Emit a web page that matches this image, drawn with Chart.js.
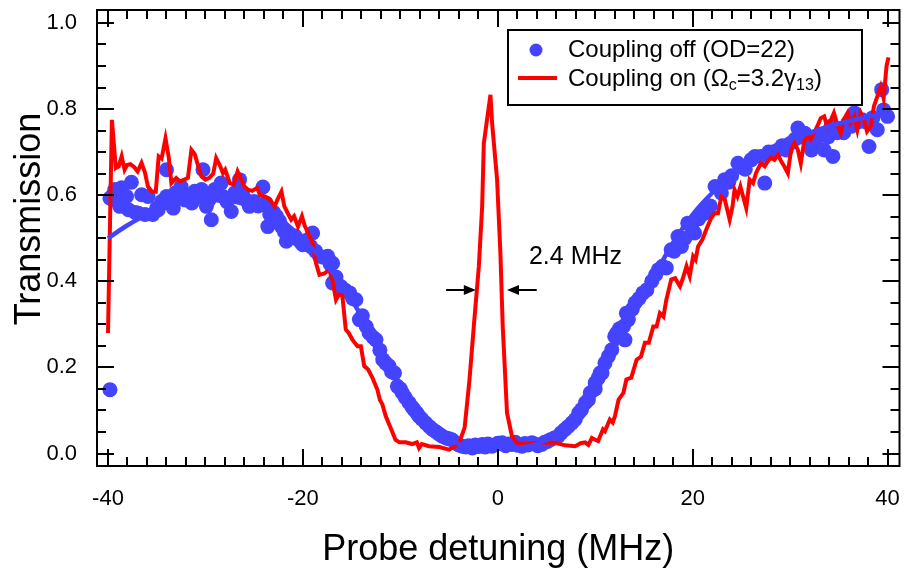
<!DOCTYPE html>
<html><head><meta charset="utf-8">
<script src="https://cdn.jsdelivr.net/npm/chart.js@4"></script>
<style>html,body{margin:0;padding:0;background:#fff}#wrap{width:907px;height:575px;position:relative}</style>
</head><body><div id="wrap"><canvas id="c" width="907" height="575"></canvas></div>
<script>
// ---- Data: coupling off (blue dots) ----
const offX = [-39.8,-39.8,-39.5,-39.3,-39.0,-38.8,-38.6,-38.1,-37.9,-37.6,-37.2,-36.9,-36.55,-36.2,-35.9,-35.4,-35.0,-34.85,-34.5,-34.0,-34.0,-33.6,-33.3,-33.1,-32.8,-32.5,-32.1,-31.8,-31.4,-31.1,-30.7,-30.4,-30.25,-29.9,-29.6,-29.4,-29.05,-28.7,-28.4,-28.2,-27.8,-27.35,-27.0,-26.5,-26.2,-25.9,-25.5,-25.0,-24.6,-24.1,-23.8,-23.6,-23.4,-23.0,-22.7,-22.4,-22.2,-21.9,-21.7,-21.4,-21.2,-20.8,-20.5,-20.2,-20.0,-19.6,-19.2,-19.0,-18.7,-18.3,-17.9,-17.45,-17.2,-16.95,-16.95,-16.6,-16.3,-16.1,-15.7,-15.2,-14.9,-14.56,-14.2,-13.9,-13.5,-13.2,-12.8,-12.5,-12.1,-11.8,-11.5,-11.15,-10.9,-10.6,-10.3,-10.0,-9.8,-9.5,-9.1,-8.8,-8.6,-8.3,-8.1,-7.8,-7.4,-7.0,-6.7,-6.3,-6.0,-5.7,-5.3,-5.0,-4.7,-4.3,-4.0,-3.65,-3.3,-3.0,-2.6,-2.3,-2.0,-1.6,-1.3,-1.0,-0.6,-0.3,0.0,0.44,0.8,1.1,1.46,1.8,2.1,2.5,2.8,3.1,3.5,3.8,4.1,4.5,4.8,5.1,5.4,5.8,6.2,6.5,6.9,7.2,7.6,7.95,8.3,8.6,9.0,9.3,9.5,10.0,10.0,10.3,10.5,10.7,11.0,11.35,11.7,12.0,12.2,12.5,12.9,13.06,13.2,13.4,13.8,14.1,14.5,14.9,15.3,15.8,16.2,16.5,16.9,17.3,17.8,18.1,18.5,18.85,19.2,19.5,19.9,20.2,20.6,21.0,21.4,21.8,22.3,22.95,23.3,23.7,24.0,24.65,25.0,25.4,26.0,26.4,27.0,27.4,27.8,28.2,28.75,29.2,29.6,30.0,30.5,30.8,31.2,31.5,31.9,32.2,32.6,33.0,33.5,33.9,34.2,34.4,34.8,35.2,35.5,35.9,36.3,36.6,37.0,37.4,37.8,38.1,38.5,38.95,39.4,39.6,40.0];
const offY = [0.148,0.593,0.600,0.613,0.585,0.574,0.617,0.597,0.566,0.630,0.560,0.558,0.601,0.555,0.597,0.555,0.570,0.566,0.585,0.659,0.597,0.580,0.570,0.605,0.598,0.620,0.589,0.600,0.582,0.609,0.595,0.613,0.659,0.574,0.590,0.543,0.613,0.600,0.628,0.597,0.585,0.562,0.605,0.636,0.605,0.590,0.574,0.585,0.575,0.619,0.582,0.527,0.555,0.560,0.551,0.540,0.527,0.515,0.493,0.500,0.504,0.505,0.497,0.490,0.485,0.495,0.481,0.512,0.470,0.458,0.456,0.458,0.440,0.442,0.396,0.410,0.388,0.388,0.380,0.373,0.360,0.357,0.311,0.320,0.295,0.280,0.270,0.264,0.240,0.218,0.210,0.203,0.190,0.187,0.156,0.150,0.141,0.130,0.118,0.108,0.102,0.094,0.087,0.080,0.071,0.062,0.056,0.050,0.045,0.040,0.036,0.034,0.032,0.025,0.020,0.017,0.015,0.018,0.013,0.020,0.016,0.021,0.015,0.022,0.017,0.020,0.024,0.025,0.018,0.022,0.021,0.026,0.019,0.017,0.023,0.020,0.025,0.022,0.018,0.021,0.026,0.028,0.032,0.036,0.040,0.048,0.056,0.062,0.071,0.079,0.094,0.102,0.118,0.125,0.141,0.150,0.164,0.175,0.187,0.187,0.210,0.226,0.241,0.272,0.280,0.290,0.295,0.264,0.326,0.311,0.335,0.350,0.360,0.373,0.380,0.400,0.415,0.427,0.435,0.431,0.473,0.470,0.504,0.481,0.500,0.535,0.525,0.512,0.545,0.555,0.560,0.575,0.620,0.605,0.636,0.630,0.645,0.674,0.665,0.660,0.682,0.690,0.690,0.628,0.700,0.700,0.705,0.715,0.705,0.720,0.730,0.756,0.735,0.744,0.730,0.705,0.725,0.740,0.705,0.735,0.760,0.690,0.745,0.755,0.745,0.767,0.760,0.791,0.770,0.775,0.770,0.713,0.780,0.752,0.845,0.798,0.783];

// ---- Data: coupling on (red line) ----
const onX = [-40.0,-39.6,-39.2,-38.9,-38.6,-38.3,-38.05,-37.7,-37.3,-36.96,-36.56,-36.2,-35.9,-35.5,-35.1,-34.8,-34.5,-34.1,-33.76,-33.5,-33.0,-32.6,-32.1,-31.8,-31.44,-31.1,-30.8,-30.4,-30.0,-29.6,-29.2,-28.9,-28.5,-28.2,-27.97,-27.5,-27.1,-26.7,-26.4,-26.0,-25.65,-25.2,-24.7,-24.4,-23.9,-23.4,-22.9,-22.6,-22.2,-21.9,-21.55,-21.2,-20.9,-20.5,-20.1,-19.8,-19.3,-19.0,-18.65,-18.3,-17.8,-17.3,-16.98,-16.6,-16.3,-15.95,-15.6,-15.3,-14.9,-14.4,-14.05,-13.7,-13.3,-12.86,-12.35,-12.1,-11.84,-11.5,-11.0,-10.5,-10.1,-9.44,-8.8,-8.3,-8.08,-7.8,-7.06,-6.0,-5.0,-4.0,-3.4,-2.9,-2.46,-1.94,-1.6,-1.43,-0.75,-0.58,-0.07,0.27,0.51,0.95,1.46,1.97,2.5,3.5,4.5,5.9,6.9,7.95,8.5,8.97,9.3,9.66,10.0,10.3,10.8,11.0,11.5,11.8,12.03,12.4,12.9,13.2,13.7,14.25,14.7,15.1,15.5,15.96,16.3,16.64,17.0,17.3,17.8,18.2,18.7,19.0,19.37,19.7,20.05,20.3,20.56,21.0,21.4,21.9,22.25,22.6,22.95,23.3,23.8,24.1,24.3,24.6,24.9,25.5,25.85,26.2,26.5,27.0,27.4,27.7,28.0,28.4,28.75,29.1,29.4,29.77,30.1,30.45,30.8,31.1,31.45,31.8,32.1,32.45,32.8,33.15,33.5,33.8,34.2,34.5,34.9,35.2,35.5,35.9,36.2,36.6,36.9,37.25,37.6,37.9,38.3,38.6,38.95,39.3,39.6,39.9,40.1];
const onY = [0.28,0.775,0.663,0.667,0.690,0.659,0.670,0.672,0.665,0.655,0.675,0.652,0.620,0.608,0.608,0.690,0.685,0.732,0.687,0.628,0.640,0.632,0.637,0.640,0.705,0.695,0.672,0.643,0.636,0.640,0.650,0.686,0.668,0.651,0.659,0.628,0.625,0.655,0.640,0.620,0.613,0.610,0.617,0.600,0.597,0.590,0.574,0.590,0.608,0.574,0.558,0.543,0.551,0.527,0.551,0.528,0.504,0.489,0.442,0.415,0.418,0.427,0.404,0.357,0.369,0.367,0.288,0.280,0.264,0.249,0.249,0.203,0.195,0.176,0.148,0.125,0.114,0.087,0.060,0.032,0.026,0.026,0.022,0.026,0.013,0.022,0.017,0.015,0.009,0.022,0.060,0.172,0.295,0.435,0.574,0.721,0.833,0.767,0.636,0.466,0.295,0.094,0.040,0.025,0.022,0.024,0.025,0.025,0.019,0.017,0.024,0.026,0.020,0.036,0.032,0.029,0.056,0.052,0.079,0.072,0.087,0.125,0.141,0.172,0.176,0.218,0.225,0.257,0.257,0.295,0.295,0.326,0.318,0.357,0.404,0.407,0.388,0.407,0.435,0.412,0.458,0.450,0.481,0.497,0.520,0.547,0.558,0.558,0.597,0.590,0.543,0.575,0.613,0.597,0.620,0.570,0.636,0.628,0.651,0.674,0.667,0.678,0.687,0.682,0.694,0.678,0.667,0.651,0.705,0.721,0.705,0.674,0.725,0.736,0.729,0.744,0.760,0.779,0.783,0.760,0.775,0.791,0.760,0.744,0.775,0.791,0.767,0.783,0.752,0.791,0.775,0.748,0.760,0.806,0.829,0.852,0.825,0.900,0.920];

// ---- Data: fit to coupling-off data (blue line) ----
const fitX = [-40,-38,-36,-34,-32,-30,-28,-26,-24,-22,-20,-18,-16,-14,-12,-10,-8,-6,-4,-2,0,2,4,6,8,10,12,14,16,18,20,22,24,26,28,30,32,34,36,38,40];
const fitY = [0.500,0.530,0.555,0.573,0.585,0.590,0.588,0.580,0.565,0.538,0.498,0.450,0.390,0.320,0.242,0.160,0.092,0.046,0.022,0.013,0.011,0.013,0.022,0.046,0.092,0.160,0.245,0.330,0.410,0.490,0.555,0.605,0.645,0.680,0.705,0.730,0.745,0.760,0.772,0.782,0.792];

// ---- Axis ticks ----
const xTickValues = [-40,-20,0,20,40];
const yTickValues = [0,0.2,0.4,0.6,0.8,1.0];

const toPts = (xs, ys) => xs.map((v, i) => ({x: v, y: ys[i]}));

const BLUE = '#4444FF', RED = '#FF0000';
const FONT = "'Liberation Sans', Arial, Helvetica, sans-serif";

const noPad = s => { s.paddingLeft = 0; s.paddingRight = 0; s.paddingTop = 0; s.paddingBottom = 0; };

const framePlugin = {
  id: 'frameTicks',
  afterDraw(chart) {
    const {ctx, chartArea: a, scales: {x, y}} = chart;
    ctx.save();
    ctx.strokeStyle = '#000';
    ctx.lineWidth = 2;
    ctx.strokeRect(a.left, a.top, a.right - a.left, a.bottom - a.top);
    ctx.beginPath();
    for (let i = -20; i <= 20; i++) {
      const v = i * 2;
      const px = Math.round(x.getPixelForValue(v));
      const L = (v % 20 === 0) ? 17 : 9;
      ctx.moveTo(px, a.bottom); ctx.lineTo(px, a.bottom - L);
      ctx.moveTo(px, a.top); ctx.lineTo(px, a.top + L);
    }
    for (let i = 0; i <= 20; i++) {
      const py = Math.round(y.getPixelForValue(i * 0.05));
      const L = (i % 4 === 0) ? 17 : 9;
      ctx.moveTo(a.left, py); ctx.lineTo(a.left + L, py);
      ctx.moveTo(a.right, py); ctx.lineTo(a.right - L, py);
    }
    ctx.stroke();

    // y axis title
    ctx.fillStyle = '#000';
    ctx.font = '36px ' + FONT;
    ctx.textAlign = 'center';
    ctx.textBaseline = 'middle';
    ctx.translate(30, 219);
    ctx.rotate(-Math.PI / 2);
    ctx.fillText('Transmission', 0, 0);
    ctx.restore();

    // annotation: linewidth arrows
    ctx.save();
    const ya = Math.round(y.getPixelForValue(0.38));
    const arrow = (x0, x1) => {
      const p0 = x.getPixelForValue(x0), p1 = x.getPixelForValue(x1);
      const dir = Math.sign(p1 - p0);
      ctx.strokeStyle = '#000'; ctx.lineWidth = 2;
      ctx.beginPath(); ctx.moveTo(p0, ya); ctx.lineTo(p1 - dir * 8, ya); ctx.stroke();
      ctx.fillStyle = '#000';
      ctx.beginPath(); ctx.moveTo(p1, ya); ctx.lineTo(p1 - dir * 12, ya - 5); ctx.lineTo(p1 - dir * 12, ya + 5); ctx.closePath(); ctx.fill();
    };
    arrow(-5.3, -2.25);
    arrow(4.0, 0.95);
    ctx.font = '25px ' + FONT;
    ctx.textAlign = 'left';
    ctx.textBaseline = 'middle';
    ctx.fillText('2.4 MHz', x.getPixelForValue(3.2), y.getPixelForValue(0.455));
    ctx.restore();

    // legend
    ctx.save();
    ctx.fillStyle = '#fff';
    ctx.fillRect(508, 30, 354, 75);
    ctx.strokeStyle = '#000'; ctx.lineWidth = 2;
    ctx.strokeRect(508, 30, 354, 75);
    ctx.fillStyle = BLUE;
    ctx.beginPath(); ctx.arc(536, 50, 6.5, 0, Math.PI * 2); ctx.fill();
    ctx.strokeStyle = RED; ctx.lineWidth = 4;
    ctx.beginPath(); ctx.moveTo(518, 78); ctx.lineTo(557, 78); ctx.stroke();
    ctx.fillStyle = '#000';
    ctx.textAlign = 'left'; ctx.textBaseline = 'middle';
    const big = '24px ' + FONT, small = '16px ' + FONT;
    ctx.font = big;
    ctx.fillText('Coupling off (OD=22)', 568, 50);
    let cx = 568; const cy = 79;
    const put = (t, f, dy) => { ctx.font = f; ctx.fillText(t, cx, cy + dy); cx += ctx.measureText(t).width; };
    put('Coupling on (\u03A9', big, 0);
    put('c', small, 7);
    put('=3.2\u03B3', big, 0);
    put('13', small, 7);
    put(')', big, 0);
    ctx.restore();
  }
};

new Chart(document.getElementById('c'), {
  type: 'scatter',
  data: {
    datasets: [
      {label: 'Fit', data: toPts(fitX, fitY), showLine: true, borderColor: BLUE, borderWidth: 4.5, pointRadius: 0, cubicInterpolationMode: 'monotone', order: 0},
      {label: 'Coupling on', data: toPts(onX, onY), showLine: true, borderColor: RED, borderWidth: 4, pointRadius: 0, tension: 0, order: 1},
      {label: 'Coupling off (OD=22)', data: toPts(offX, offY), showLine: false, backgroundColor: BLUE, borderWidth: 0, pointRadius: 7.5, order: 2}
    ]
  },
  options: {
    responsive: false, animation: false, devicePixelRatio: 1,
    layout: {padding: {top: 10, right: 5, left: 0, bottom: 0}},
    plugins: {legend: {display: false}, tooltip: {enabled: false}},
    scales: {
      x: {
        type: 'linear', min: -41.13, max: 41.23,
        afterBuildTicks: s => { s.ticks = xTickValues.map(v => ({value: v})); },
        afterFit: s => { s.height = 109; noPad(s); },
        grid: {display: false}, border: {display: false},
        ticks: {padding: 12, color: '#000', font: {family: FONT, size: 22}, maxRotation: 0, autoSkip: false},
        title: {display: true, text: 'Probe detuning (MHz)', color: '#000', font: {family: FONT, size: 36}, padding: {top: 0, bottom: 3}}
      },
      y: {
        type: 'linear', min: -0.029, max: 1.030,
        afterBuildTicks: s => { s.ticks = yTickValues.map(v => ({value: v})); },
        afterFit: s => { s.width = 97; noPad(s); },
        grid: {display: false}, border: {display: false},
        ticks: {padding: 12, color: '#000', font: {family: FONT, size: 22}, callback: v => v.toFixed(1)}
      }
    }
  },
  plugins: [framePlugin]
});
</script>
</body></html>
